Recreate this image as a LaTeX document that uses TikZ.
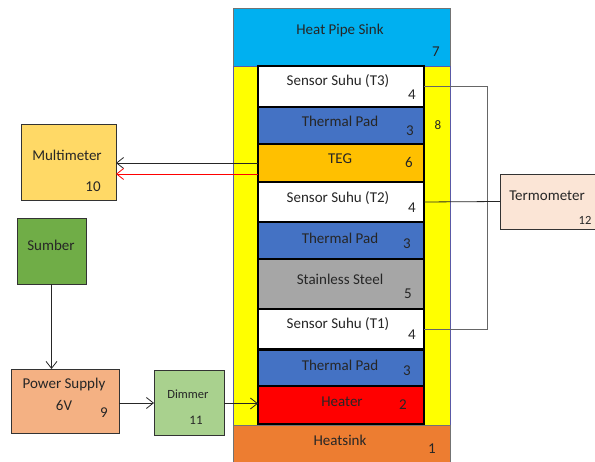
\documentclass[tikz,border=0pt]{standalone}
\usepackage{fontspec}
\setmainfont{Carlito}
\usetikzlibrary{arrows.meta}

\definecolor{txtc}{HTML}{262626}
\definecolor{sinkc}{HTML}{00B0F0}
\definecolor{framec}{HTML}{FFFF00}
\definecolor{padc}{HTML}{4472C4}
\definecolor{tegc}{HTML}{FFC000}
\definecolor{steelc}{HTML}{A6A6A6}
\definecolor{heatc}{HTML}{FF0000}
\definecolor{hsinkc}{HTML}{ED7D31}
\definecolor{multic}{HTML}{FFD966}
\definecolor{sumberc}{HTML}{70AD47}
\definecolor{psc}{HTML}{F4B183}
\definecolor{dimc}{HTML}{A9D18E}
\definecolor{termc}{HTML}{FBE5D6}

\begin{document}
\begin{tikzpicture}[x=1pt,y=-1pt,
  base/.style={anchor=north west, inner sep=0pt, outer sep=0pt},
  layer/.style={base, draw=black, line width=1.3pt, minimum width=166},
  side/.style={base, draw=black!80, line width=0.8pt},
  txt/.style={text=txtc, font=\fontsize{15}{17}\selectfont, inner sep=0pt},
  num/.style={text=txtc, font=\fontsize{15}{17}\selectfont, inner sep=0pt},
  wire/.style={line width=0.8pt, draw=black!85},
  tip/.style={wire, -{Straight Barb[length=7pt,width=11pt]}}
]
\clip (0,0) rectangle (595,462);
\fill[white] (0,0) rectangle (595,462);

% ---- central stack ----
\node[base, draw=black!55, line width=0.6pt, fill=sinkc, minimum width=217, minimum height=58] (hps) at (233,8) {};
\node[base, draw=gray!70!blue, line width=0.6pt, fill=framec, minimum width=217, minimum height=359] (frame) at (233,66) {};
\node[layer, fill=white,  minimum height=41] (t3)     at (258,66)  {};
\node[layer, fill=padc,   minimum height=37] (pad1)   at (258,107) {};
\node[layer, fill=tegc,   minimum height=38] (teg)    at (258,144) {};
\node[layer, fill=white,  minimum height=40] (t2)     at (258,182) {};
\node[layer, fill=padc,   minimum height=37] (pad2)   at (258,222) {};
\node[layer, fill=steelc, minimum height=50] (steel)  at (258,259) {};
\node[layer, fill=white,  minimum height=40] (t1)     at (258,309) {};
\node[layer, fill=padc,   minimum height=36] (pad3)   at (258,350) {};
\node[layer, fill=heatc,  minimum height=38] (heater) at (258,386) {};
\node[base, draw=black!55, line width=0.6pt, fill=hsinkc, minimum width=217, minimum height=45] (hsink) at (233,425) {};

% stack labels
\node[txt] (lhps)   at (340,31)  {Heat Pipe Sink};
\node[num] (n7)     at (436,52)  {7};
\node[num, font=\fontsize{13}{15}\selectfont] (n8) at (438,125) {8};
\node[txt] (lt3)    at (338,81)  {Sensor Suhu (T3)};
\node[num] (n4a)    at (412,95)  {4};
\node[txt] (lpad1)  at (340,121) {Thermal Pad};
\node[num] (n3a)    at (410,131) {3};
\node[txt] (lteg)   at (340,159) {TEG};
\node[num] (n6)     at (409,162) {6};
\node[txt] (lt2)    at (338,198) {Sensor Suhu (T2)};
\node[num] (n4b)    at (412,208) {4};
\node[txt] (lpad2)  at (340,238) {Thermal Pad};
\node[num] (n3b)    at (407,244) {3};
\node[txt] (lsteel) at (340,279) {Stainless Steel};
\node[num] (n5)     at (408,294) {5};
\node[txt] (lt1)    at (338,324) {Sensor Suhu (T1)};
\node[num] (n4c)    at (412,335) {4};
\node[txt] (lpad3)  at (340,365) {Thermal Pad};
\node[num] (n3c)    at (407,371) {3};
\node[txt] (lheat)  at (342,402) {Heater};
\node[num] (n2)     at (403,405) {2};
\node[txt] (lhsink) at (340,440) {Heatsink};
\node[num] (n1)     at (432,449) {1};

% ---- surrounding instruments ----
\node[side, fill=multic,  minimum width=95,  minimum height=76] (multi)  at (21,124)  {};
\node[side, fill=sumberc, minimum width=69,  minimum height=66] (sumber) at (17,218)  {};
\node[side, fill=psc,     minimum width=108, minimum height=64] (ps)     at (11,369)  {};
\node[side, fill=dimc,    minimum width=70,  minimum height=65] (dimmer) at (154,370) {};
\node[side, fill=termc,   minimum width=110, minimum height=55] (termo)  at (500,174) {};

\node[txt] (lmulti)  at (67,155)  {Multimeter};
\node[num] (n10)     at (93,187)  {10};
\node[txt] (lsumber) at (51,245)  {Sumber};
\node[txt] (lps)     at (64,385)  {Power Supply};
\node[txt] (l6v)     at (64,405)  {6V};
\node[num] (n9)      at (104,413) {9};
\node[txt, font=\fontsize{12.5}{14}\selectfont] (ldim) at (188,394) {Dimmer};
\node[num, font=\fontsize{13}{15}\selectfont] (n11)  at (196,420) {11};
\node[txt] (lterm)   at (547,196) {Termometer};
\node[num, font=\fontsize{12.5}{14}\selectfont] (n12) at (585,220) {12};

% ---- connectors ----
\draw[tip] (teg.west) -- (teg.west -| multi.east);
\draw[tip, draw=red] ([yshift=-11pt]teg.west) -- ([yshift=-11pt]teg.west -| multi.east);
\draw[tip] (sumber.south) -- (sumber.south |- ps.north);
\draw[tip] ([yshift=-2pt]ps.east) -- ([yshift=-2pt]ps.east -| dimmer.west);
\draw[tip] ([yshift=-1pt]dimmer.east) -- ([yshift=-1pt]dimmer.east -| heater.west);
\draw[wire, draw=black!60] (t3.east) -- ++(63,0) |- (t1.east);
\draw[wire] (t2.east) -- (termo.west);
\end{tikzpicture}
\end{document}
